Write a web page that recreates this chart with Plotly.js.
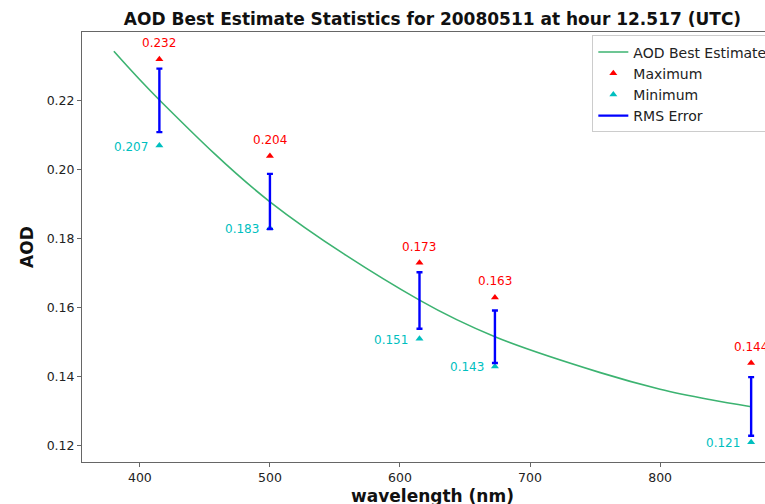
<!DOCTYPE html>
<html>
<head>
<meta charset="utf-8">
<script src="https://cdn.plot.ly/plotly-3.0.1.min.js"></script>
<style>
  html, body { margin: 0; padding: 0; overflow: hidden; background: #ffffff; }
  #chart { width: 830px; height: 520px; }
</style>
</head>
<body>
<div id="chart"></div>
<script>
// Best-estimate AOD spectrum (fitted curve)
const curveWavelength = [380, 415, 500, 615, 673, 754, 800, 838, 870];
const curveAod = [0.2343, 0.2202, 0.1907, 0.1622, 0.1516, 0.1412, 0.1364, 0.1334, 0.1313];

// MFRSR channels
const bandWavelength = [415, 500, 615, 673, 870];
const bandMax = [0.232, 0.204, 0.173, 0.163, 0.144];
const bandMin = [0.207, 0.183, 0.151, 0.143, 0.121];
const bandBest = [0.2201, 0.1908, 0.1621, 0.1516, 0.1314];
const bandRms = [0.0092, 0.0080, 0.0082, 0.0076, 0.0085];

const yTicks = [0.12, 0.14, 0.16, 0.18, 0.20, 0.22];
const xTicks = [400, 500, 600, 700, 800];

const FONT = 'DejaVu Sans';
const RED = '#ff0000';
const CYAN = '#00bfbf';

const traces = [
  {
    x: curveWavelength, y: curveAod, type: 'scatter', mode: 'lines',
    name: 'AOD Best Estimate',
    line: { color: '#3cb371', width: 1.6, shape: 'spline', smoothing: 1 }
  },
  {
    x: bandWavelength, y: bandMax, type: 'scatter', mode: 'markers',
    name: 'Maximum',
    marker: { symbol: 'triangle-up', color: RED, size: 7 }
  },
  {
    x: bandWavelength, y: bandMin, type: 'scatter', mode: 'markers',
    name: 'Minimum',
    marker: { symbol: 'triangle-up', color: CYAN, size: 7 }
  },
  {
    x: bandWavelength, y: bandBest, type: 'scatter', mode: 'markers',
    showlegend: false, hoverinfo: 'skip',
    marker: { color: 'rgba(0,0,255,0)', size: 1 },
    error_y: { type: 'data', array: bandRms, visible: true, color: '#0000ff', thickness: 2.4, width: 3 }
  },
  {
    x: [null], y: [null], type: 'scatter', mode: 'lines',
    name: 'RMS Error',
    line: { color: '#0000ff', width: 2.4 }
  }
];

const annotations = [];
bandWavelength.forEach((w, i) => {
  annotations.push({
    x: w, y: bandMax[i], xref: 'x', yref: 'y',
    text: bandMax[i].toFixed(3), showarrow: false,
    xanchor: 'center', yanchor: 'middle', yshift: 16,
    font: { family: FONT, size: 12, color: RED }
  });
  annotations.push({
    x: w, y: bandMin[i], xref: 'x', yref: 'y',
    text: bandMin[i].toFixed(3), showarrow: false,
    xanchor: 'right', yanchor: 'middle', xshift: -9, yshift: -1,
    font: { family: FONT, size: 12, color: CYAN }
  });
});

const axisCommon = {
  showline: true, linecolor: '#666666', linewidth: 1, mirror: true,
  ticks: 'outside', ticklen: 4, tickwidth: 1, tickcolor: '#666666',
  showgrid: false, zeroline: false,
  tickfont: { family: FONT, size: 12.5, color: '#222222' }
};

const layout = {
  width: 830, height: 520,
  paper_bgcolor: '#ffffff', plot_bgcolor: '#ffffff',
  margin: { l: 82, r: 47, t: 32, b: 58 },
  title: {
    text: 'AOD Best Estimate Statistics for 20080511 at hour 12.517 (UTC)',
    font: { family: FONT, size: 17, color: '#111111', weight: 'bold' },
    x: 0.5, xref: 'paper', xanchor: 'center',
    y: 1 - 19 / 520, yref: 'container', yanchor: 'middle'
  },
  xaxis: Object.assign({}, axisCommon, {
    range: [355.5, 894.5],
    tickvals: xTicks, ticktext: xTicks.map(String),
    title: { text: 'wavelength (nm)', standoff: 6,
             font: { family: FONT, size: 17, color: '#111111', weight: 'bold' } }
  }),
  yaxis: Object.assign({}, axisCommon, {
    range: [0.1153, 0.2399],
    tickvals: yTicks, ticktext: yTicks.map(v => v.toFixed(2)),
    title: { text: 'AOD', standoff: 8,
             font: { family: FONT, size: 17, color: '#111111', weight: 'bold' } }
  }),
  legend: {
    x: 0.728, y: 0.992, xanchor: 'left', yanchor: 'top',
    bgcolor: '#ffffff', bordercolor: '#cccccc', borderwidth: 1,
    font: { family: FONT, size: 14, color: '#222222' }
  },
  annotations: annotations,
  showlegend: true
};

Plotly.newPlot('chart', traces, layout, { displayModeBar: false, staticPlot: true });
</script>
</body>
</html>
